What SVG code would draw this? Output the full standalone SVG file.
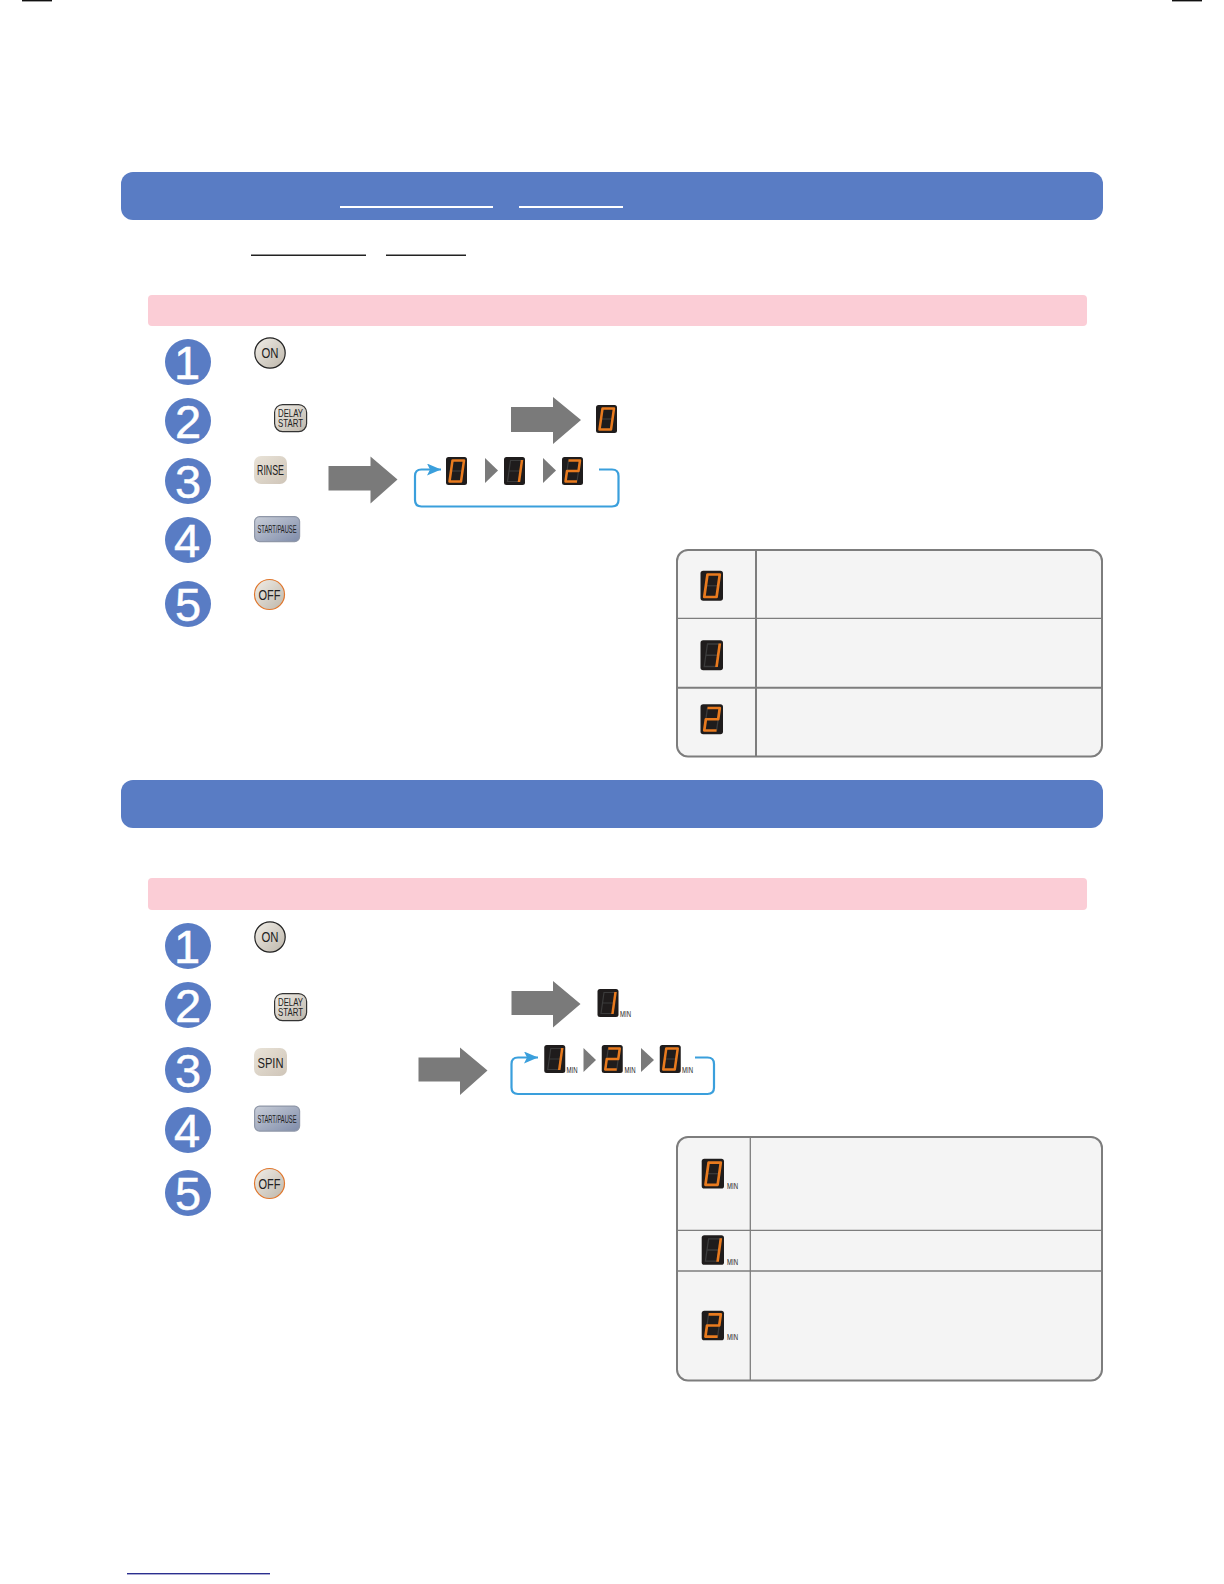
<svg xmlns="http://www.w3.org/2000/svg" width="1224" height="1584" viewBox="0 0 1224 1584">
<style>
text{font-family:"Liberation Sans",Arial,sans-serif}
.hdr{fill:#597cc4}
.pink{fill:#fbcdd6}
.num{fill:#597cc4}
.numt{fill:#fff;stroke:#fff;stroke-width:0.5;font-size:47px;text-anchor:middle}
.btnt{fill:#222;text-anchor:middle}
.min{fill:#222;font-size:9px}
.big{fill:#7a7a7a}
.tri{fill:#7a7a7a}
.loop{fill:none;stroke:#3a9fdc;stroke-width:2.2}
.tbl{fill:#f4f4f4;stroke:#7d7d7d;stroke-width:2}
.g2{stroke:#7d7d7d;stroke-width:2;fill:none}
.g1{stroke:#7d7d7d;stroke-width:1.3;fill:none}
.dim{fill:none;stroke:#3b3b3b;stroke-width:1.2}
.lit{fill:none;stroke:#e87a1e;stroke-width:2.5;stroke-linejoin:round}
.litf{fill:#e87a1e}
.bg{fill:#1f1c1c}
</style>
<defs>
<linearGradient id="gs" x1="0" y1="0" x2="1" y2="1"><stop offset="0" stop-color="#f1eee8"/><stop offset="1" stop-color="#bdb6aa"/></linearGradient>
<linearGradient id="gb" x1="0" y1="0" x2="1" y2="1"><stop offset="0" stop-color="#e9e3d8"/><stop offset="1" stop-color="#cfc5b8"/></linearGradient>
<linearGradient id="gp" x1="0" y1="0" x2="1" y2="1"><stop offset="0" stop-color="#c9ced8"/><stop offset="1" stop-color="#7f8caa"/></linearGradient>
<marker id="ah" markerUnits="userSpaceOnUse" markerWidth="15" markerHeight="14" refX="14" refY="6" orient="auto"><path d="M0 0L14 6L0 12L3 6Z" fill="#3a9fdc"/></marker>
<symbol id="d0" viewBox="0 0 21 28" overflow="visible"><rect class="bg" width="21" height="28" rx="2.5"/><path class="dim" d="M5 14H16"/><path class="lit" d="M6.500 3.500H18L15 24.500H3.500Z"/></symbol>
<symbol id="d1" viewBox="0 0 21 28" overflow="visible"><rect class="bg" width="21" height="28" rx="2.5"/><path class="dim" d="M6.500 3.500H18L15 24.500H3.500ZM5 14H16"/><path class="litf" d="M16.800 3H19.300L16.200 25H13.700Z"/></symbol>
<symbol id="d2" viewBox="0 0 21 28" overflow="visible"><rect class="bg" width="21" height="28" rx="2.5"/><path class="dim" d="M6.500 3.500L3.500 24.500M18 3.500L15 24.500"/><path class="lit" d="M6.500 3.500H18L16.500 14H5L3.500 24.500H15"/></symbol>
<g id="btn-on"><circle cx="16" cy="16" r="15.2" fill="url(#gs)" stroke="#222" stroke-width="1.2"/><text class="btnt" x="16" y="21" font-size="14" textLength="17" lengthAdjust="spacingAndGlyphs">ON</text></g>
<g id="btn-delay"><rect x="0.6" y="0.6" width="32" height="27" rx="8" fill="url(#gs)" stroke="#333" stroke-width="1.2"/><text class="btnt" x="16.5" y="13" font-size="11" textLength="25" lengthAdjust="spacingAndGlyphs">DELAY</text><text class="btnt" x="16.5" y="23" font-size="11" textLength="25" lengthAdjust="spacingAndGlyphs">START</text></g>
<g id="btn-start"><rect x="0.6" y="0.6" width="45" height="25" rx="5" fill="url(#gp)" stroke="#8f97a8" stroke-width="1.2"/><text class="btnt" x="23" y="17" font-size="10" textLength="39" lengthAdjust="spacingAndGlyphs">START/PAUSE</text></g>
<g id="btn-off"><circle cx="15.5" cy="15.5" r="15" fill="url(#gs)" stroke="#e0772d" stroke-width="1.2"/><text class="btnt" x="15.5" y="20.5" font-size="14" textLength="22" lengthAdjust="spacingAndGlyphs">OFF</text></g>
</defs>
<rect width="1224" height="1584" fill="#fff"/>

<g id="page-marks">
<rect x="22" y="0" width="30" height="1.4" fill="#111"/>
<rect x="1172" y="0" width="30" height="1.4" fill="#111"/>
<rect x="127" y="1573" width="143" height="1.4" fill="#2b2f8f"/>
</g>

<g id="section-1">
<rect class="hdr" x="121" y="172" width="982" height="48" rx="12"/>
<rect x="340" y="206" width="153" height="2" fill="#fff"/>
<rect x="519" y="206" width="104" height="2" fill="#fff"/>
<rect x="251" y="254.5" width="115" height="1.5" fill="#222"/>
<rect x="386" y="254.5" width="80" height="1.5" fill="#222"/>
<rect class="pink" x="148" y="295" width="939" height="31" rx="4"/>
</g>

<g id="s1-step1"><circle class="num" cx="188" cy="362" r="23"/><text class="numt" x="187" y="379">1</text><use href="#btn-on" x="254" y="337"/></g>
<g id="s1-step2"><circle class="num" cx="188" cy="421" r="23"/><text class="numt" x="188" y="438">2</text><use href="#btn-delay" x="274" y="404"/></g>
<g id="s1-step3"><circle class="num" cx="188" cy="481" r="23"/><text class="numt" x="188" y="498">3</text><rect x="254" y="456" width="33" height="28" rx="7" fill="url(#gb)"/><text class="btnt" x="270.5" y="475" font-size="14" textLength="27" lengthAdjust="spacingAndGlyphs">RINSE</text></g>
<g id="s1-step4"><circle class="num" cx="188" cy="540" r="23"/><text class="numt" x="187" y="557">4</text><use href="#btn-start" x="254" y="516"/></g>
<g id="s1-step5"><circle class="num" cx="188" cy="604" r="23"/><text class="numt" x="188" y="621">5</text><use href="#btn-off" x="254" y="579"/></g>

<g id="s1-displays">
<use href="#d0" x="596" y="405" width="21" height="28"/>
<use href="#d0" x="446" y="457" width="21" height="28"/>
<path class="tri" d="M485 458L498 470.5L485 483Z"/>
<use href="#d1" x="504" y="457" width="21" height="28"/>
<path class="tri" d="M543 458L556 470.5L543 483Z"/>
<use href="#d2" x="562" y="457" width="21" height="28"/>
</g>

<g id="s1-table">
<rect class="tbl" x="677" y="550" width="425" height="206.500" rx="11"/>
<path class="g2" d="M756 550V756.500M677 687.700H1102"/>
<path class="g1" d="M677 618.300H1102"/>
<use href="#d0" x="700.500" y="570.500" width="22.500" height="30.500"/>
<use href="#d1" x="700.500" y="640" width="22.500" height="30.500"/>
<use href="#d2" x="700.500" y="704" width="22.500" height="30.500"/>
</g>

<g id="section-2">
<rect class="hdr" x="121" y="780" width="982" height="48" rx="12"/>
<rect class="pink" x="148" y="878" width="939" height="32" rx="4"/>
</g>

<g id="s2-step1"><circle class="num" cx="188" cy="946" r="23"/><text class="numt" x="187" y="963">1</text><use href="#btn-on" x="254" y="921"/></g>
<g id="s2-step2"><circle class="num" cx="188" cy="1005" r="23"/><text class="numt" x="188" y="1022">2</text><use href="#btn-delay" x="274" y="993"/></g>
<g id="s2-step3"><circle class="num" cx="188" cy="1070" r="23"/><text class="numt" x="188" y="1087">3</text><rect x="254" y="1048" width="33" height="28" rx="7" fill="url(#gb)"/><text class="btnt" x="270.500" y="1068" font-size="14" textLength="26" lengthAdjust="spacingAndGlyphs">SPIN</text></g>
<g id="s2-step4"><circle class="num" cx="188" cy="1130" r="23"/><text class="numt" x="187" y="1147">4</text><use href="#btn-start" x="254" y="1105.500"/></g>
<g id="s2-step5"><circle class="num" cx="188" cy="1193" r="23"/><text class="numt" x="188" y="1210">5</text><use href="#btn-off" x="254" y="1168"/></g>

<g id="s2-displays">
<use href="#d1" x="597.500" y="989" width="21" height="28"/><text class="min" x="620" y="1017" textLength="11" lengthAdjust="spacingAndGlyphs">MIN</text>
<use href="#d1" x="544" y="1045" width="21.500" height="28"/><text class="min" x="566.500" y="1073" textLength="11" lengthAdjust="spacingAndGlyphs">MIN</text>
<path class="tri" d="M583.500 1048L596 1060L583.500 1072Z"/>
<use href="#d2" x="601.500" y="1045" width="21.500" height="28"/><text class="min" x="624.500" y="1073" textLength="11" lengthAdjust="spacingAndGlyphs">MIN</text>
<path class="tri" d="M641 1048L654 1060L641 1072Z"/>
<use href="#d0" x="659.500" y="1045" width="21.500" height="28"/><text class="min" x="682" y="1073" textLength="11" lengthAdjust="spacingAndGlyphs">MIN</text>
</g>

<g id="s2-table">
<rect class="tbl" x="677" y="1137" width="425" height="243.500" rx="11"/>
<path class="g1" d="M750.300 1137V1380.500M677 1230.300H1102M677 1271H1102"/>
<use href="#d0" x="701.700" y="1158.700" width="22.300" height="30"/><text class="min" x="727" y="1188.500" textLength="11" lengthAdjust="spacingAndGlyphs">MIN</text>
<use href="#d1" x="701.700" y="1235" width="22.300" height="30"/><text class="min" x="727" y="1264.500" textLength="11" lengthAdjust="spacingAndGlyphs">MIN</text>
<use href="#d2" x="701.700" y="1310.500" width="22.300" height="30"/><text class="min" x="727" y="1340" textLength="11" lengthAdjust="spacingAndGlyphs">MIN</text>
</g>

<g id="connectors">
<path class="big" d="M511 407H553V397L581 420L553 444V432H511Z"/>
<path class="big" d="M328.500 466H370.500V456.500L397.500 479.500L370.500 503.500V490.500H328.500Z"/>
<path class="loop" d="M599 469.500H612Q618.500 469.500 618.500 476V500Q618.500 506.500 612 506.500H421.500Q415 506.500 415 500V476Q415 469.500 421.500 469.500H441" marker-end="url(#ah)"/>
<path class="big" d="M511.500 991H553V981L580.500 1004L553 1027.500V1015H511.500Z"/>
<path class="big" d="M418.500 1057.500H460V1047.500L487.500 1070.500L460 1095V1081.500H418.500Z"/>
<path class="loop" d="M695 1057.500H707.500Q714 1057.500 714 1064V1087.500Q714 1094 707.500 1094H518Q511.500 1094 511.500 1087.500V1064Q511.500 1057.500 518 1057.500H538" marker-end="url(#ah)"/>
</g>
</svg>
